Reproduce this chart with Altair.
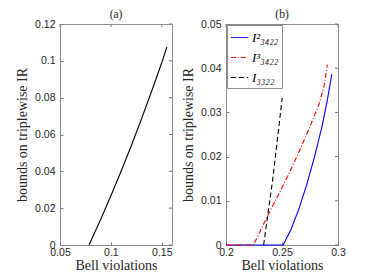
import altair as alt
import pandas as pd

# ---------------- data ----------------
# Panel (a)
a_x = [0.0785, 0.09, 0.10, 0.11, 0.12, 0.13, 0.14, 0.15, 0.155]
a_y = [0.0, 0.0140, 0.0267, 0.0400, 0.0539, 0.0684, 0.0835, 0.0991, 0.1075]

# Panel (b)
blue_x = [0.20, 0.251, 0.258, 0.265, 0.272, 0.279, 0.286, 0.2905, 0.2944]
blue_y = [0.0, 0.0, 0.0035, 0.0081, 0.0136, 0.0199, 0.0271, 0.0328, 0.0386]
red_x = [0.20, 0.2245, 0.235, 0.245, 0.255, 0.265, 0.275, 0.283, 0.2876, 0.2905]
red_y = [0.0, 0.0, 0.0055, 0.0105, 0.0155, 0.0210, 0.0268, 0.0318, 0.0360, 0.0408]
black_x = [0.2336, 0.2418, 0.2502]
black_y = [0.0, 0.0150, 0.0333]

series_names = ["I²₃₄₂₂", "I³₃₄₂₂", "I₃₃₂₂"]
series_colors = ["#0000ff", "#ff0000", "#000000"]
series_dashes = [[1, 0], [5, 2, 1, 2], [5, 3]]

a_xticks = [0.05, 0.1, 0.15]
a_yticks = [0, 0.02, 0.04, 0.06, 0.08, 0.1, 0.12]
b_xticks = [0.2, 0.25, 0.3]
b_yticks = [0, 0.01, 0.02, 0.03, 0.04, 0.05]

a_xdom = [0.05, 0.16]
a_ydom = [0, 0.12]
b_xdom = [0.2, 0.3]
b_ydom = [0, 0.05]

df_a = pd.DataFrame({"x": a_x, "y": a_y})
rows = []
for name, xs, ys in zip(series_names, [blue_x, red_x, black_x], [blue_y, red_y, black_y]):
    for i, (xv, yv) in enumerate(zip(xs, ys)):
        rows.append({"x": xv, "y": yv, "series": name, "i": i})
df_b = pd.DataFrame(rows)

XT = "Bell violations"
YT = "bounds on triplewise IR"
W, H = 112, 221
TICK = 3
TICKCOL = "#777777"
FMT = ".2~f"


def xenc(xt, dom):
    return alt.X("x:Q", scale=alt.Scale(domain=dom, nice=False, zero=False),
                 axis=alt.Axis(values=xt, format=FMT, orient="bottom", offset=-TICK,
                               tickSize=TICK, domain=False, grid=False,
                               labelPadding=2, titlePadding=1,
                               labelOverlap=False, labelFlush=False),
                 title=XT)


def yenc(yt, dom):
    return alt.Y("y:Q", scale=alt.Scale(domain=dom, nice=False, zero=False),
                 axis=alt.Axis(values=yt, format=FMT, orient="left", offset=-TICK,
                               tickSize=TICK, domain=False, grid=False,
                               labelPadding=5, titlePadding=5,
                               labelOverlap=False, labelFlush=False),
                 title=YT)


def mirror_ticks(xt, yt, xdom, ydom):
    top = alt.Chart(pd.DataFrame({"x": xt})).mark_rule(color=TICKCOL, strokeWidth=1).encode(
        x=xenc(xt, xdom), y=alt.value(0), y2=alt.value(TICK))
    right = alt.Chart(pd.DataFrame({"y": yt})).mark_rule(color=TICKCOL, strokeWidth=1).encode(
        y=yenc(yt, ydom), x=alt.value(W - TICK), x2=alt.value(W))
    return [top, right]


def ptitle(t):
    return alt.TitleParams(t, font="Liberation Serif", fontSize=11.5, fontWeight="normal",
                           color="#262626", offset=-1, frame="group")


line_a = alt.Chart(df_a).mark_line(color="#000000", strokeWidth=1.1).encode(
    x=xenc(a_xticks, a_xdom), y=yenc(a_yticks, a_ydom))
panel_a = alt.layer(line_a, *mirror_ticks(a_xticks, a_yticks, a_xdom, a_ydom)).properties(
    width=W, height=H, title=ptitle("(a)"))

legend = alt.Legend(title=None, orient="top-left", offset=1)
line_b = alt.Chart(df_b).mark_line(strokeWidth=1.1).encode(
    x=xenc(b_xticks, b_xdom), y=yenc(b_yticks, b_ydom),
    color=alt.Color("series:N", scale=alt.Scale(domain=series_names, range=series_colors),
                    legend=legend),
    strokeDash=alt.StrokeDash("series:N", scale=alt.Scale(domain=series_names, range=series_dashes),
                              legend=legend),
    order="i:Q",
)
panel_b = alt.layer(line_b, *mirror_ticks(b_xticks, b_yticks, b_xdom, b_ydom)).properties(
    width=W, height=H, title=ptitle("(b)"))

chart = alt.hconcat(panel_a, panel_b, spacing=8).resolve_scale(
    color="independent", strokeDash="independent"
).properties(
    padding={"left": 7, "top": 0, "right": 5, "bottom": 0}
).configure_view(
    stroke="#8c8c8c", strokeWidth=1
).configure_axis(
    labelFont="Liberation Sans", labelFontSize=10.5, labelColor="#262626",
    titleFont="Liberation Serif", titleFontSize=14, titleFontWeight="normal",
    titleColor="#262626", tickColor=TICKCOL, tickWidth=1
).configure_legend(
    padding=3, strokeColor="#8c8c8c", fillColor="white", cornerRadius=0,
    symbolType="stroke", symbolSize=300, symbolStrokeWidth=1,
    labelFont="Liberation Serif", labelFontStyle="italic", labelFontSize=13,
    labelColor="#000000", rowPadding=3, labelOffset=3
)

chart.save("out.html", embed_options={"renderer": "svg", "actions": False})
